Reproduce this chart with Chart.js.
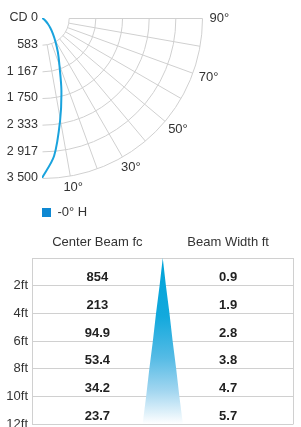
<!DOCTYPE html>
<html>
<head>
<meta charset="utf-8">
<script src="https://cdn.jsdelivr.net/npm/chart.js@4.4.1/dist/chart.umd.min.js"></script>
<style>
  html, body { margin: 0; padding: 0; background: #fff; overflow: hidden; }
  canvas { display: block; }
</style>
</head>
<body>
<canvas id="polar" width="301" height="230"></canvas>
<canvas id="table" width="301" height="210"></canvas>
<script>
// --- candela curve (deg from nadir -> cd) ---
const ANGLES  = [0, 5, 10, 15, 20, 25, 30, 35, 40, 45, 50, 55, 60, 70, 80, 90];
const CANDELA = [3500, 3030, 2280, 1640, 1120, 820, 580, 410, 280, 185, 110, 60, 30, 5, 0, 0];
const CD_TICKS  = [0, 583.33, 1166.67, 1750, 2333.33, 2916.67, 3500];
const CD_LABELS = ["CD 0", "583", "1 167", "1 750", "2 333", "2 917", "3 500"];
const GRID_ANGLES  = [10, 20, 30, 40, 50, 60, 70, 80, 90];
const ANGLE_LABELS = [10, 30, 50, 70, 90];
const SERIES_LABEL = "-0° H";

// --- beam table ---
const DISTANCES  = [2, 4, 6, 8, 10, 12];
const CENTER_FC  = ["854", "213", "94.9", "53.4", "34.2", "23.7"];
const BEAM_WIDTH = [0.9, 1.9, 2.8, 3.8, 4.7, 5.7];
const COLUMNS    = ["Center Beam fc", "Beam Width ft"];

const FONT = "'Liberation Sans', Arial, sans-serif";
const GRID = "#d0d0d0";
const TEXT = "#333";

Chart.defaults.font.family = FONT;
Chart.defaults.color = TEXT;
Chart.defaults.animation = false;

const rad = (a) => a * Math.PI / 180;

// ─── polar grid: arcs + spokes + angle labels ───────────────────────────────
const polarGrid = {
  id: "polarGrid",
  beforeDatasetsDraw(chart) {
    const { ctx, scales: { x, y } } = chart;
    const cx = x.getPixelForValue(0) + 0.5;
    const cy = y.getPixelForValue(0) + 0.5;
    const r = (v) => y.getPixelForValue(v) - y.getPixelForValue(0);
    const rIn = r(CD_TICKS[1]);
    const rOut = r(CD_TICKS[CD_TICKS.length - 1]);

    ctx.save();
    ctx.strokeStyle = GRID;
    ctx.lineWidth = 1;
    CD_TICKS.slice(1).forEach((v) => {
      ctx.beginPath();
      ctx.arc(cx, cy, r(v), 0, Math.PI / 2);
      ctx.stroke();
    });
    GRID_ANGLES.forEach((a) => {
      const s = Math.sin(rad(a)), c = Math.cos(rad(a));
      ctx.beginPath();
      ctx.moveTo(cx + rIn * s, cy + rIn * c);
      ctx.lineTo(cx + rOut * s, cy + rOut * c);
      ctx.stroke();
    });

    ctx.font = "13px " + FONT;
    ctx.fillStyle = TEXT;
    ctx.textAlign = "center";
    ctx.textBaseline = "middle";
    ANGLE_LABELS.forEach((a) => {
      const txt = a + "°";
      const w = ctx.measureText(txt).width;
      const s = Math.sin(rad(a)), c = Math.cos(rad(a));
      const d = rOut + 7;
      ctx.fillText(txt, cx + d * s + (w / 2) * s, cy + d * c + 5 * c);
    });
    ctx.restore();
  },
};

new Chart(document.getElementById("polar"), {
  type: "scatter",
  data: {
    datasets: [{
      label: SERIES_LABEL,
      data: ANGLES.map((a, i) => ({ x: CANDELA[i] * Math.sin(rad(a)), y: CANDELA[i] * Math.cos(rad(a)) })),
      showLine: true,
      borderColor: "#1aa3dd",
      backgroundColor: "#0e88d2",
      borderWidth: 2,
      pointRadius: 0,
      tension: 0.3,
    }],
  },
  options: {
    responsive: false,
    layout: { padding: { top: 18, right: 99, bottom: 1, left: 0 } },
    plugins: {
      tooltip: { enabled: false },
      legend: {
        position: "bottom",
        align: "start",
        fullSize: false,
        labels: {
          boxWidth: 9,
          boxHeight: 9,
          padding: 0,
          color: TEXT,
          font: { size: 13 },
          generateLabels: (chart) =>
            Chart.defaults.plugins.legend.labels.generateLabels(chart).map((l) => ({ ...l, lineWidth: 0 })),
        },
      },
    },
    scales: {
      x: {
        min: 0, max: 3500,
        ticks: { display: false },
        grid: { display: false, drawTicks: false },
        border: { display: false },
        afterFit: (s) => { s.height = 28; },
      },
      y: {
        min: 0, max: 3500, reverse: true,
        grid: { display: false, drawTicks: false },
        border: { display: false },
        afterBuildTicks: (s) => { s.ticks = CD_TICKS.map((v) => ({ value: v })); },
        ticks: { autoSkip: false, padding: 4, color: TEXT, font: { size: 12.5 }, callback: (v, i) => CD_LABELS[i] },
        afterFit: (s) => { s.width = 42; },
      },
    },
  },
  plugins: [polarGrid],
});

// ─── beam table ─────────────────────────────────────────────────────────────
const CONE_K = 0.027; // plot units per ft of beam width
const coneEdge = DISTANCES.map((d, i) => ({ x: BEAM_WIDTH[i] * CONE_K, y: d }));
const coneData = [{ x: 0, y: 0 }, ...coneEdge, ...coneEdge.slice().reverse().map((p) => ({ x: -p.x, y: p.y }))];

const tableText = {
  id: "tableText",
  afterDatasetsDraw(chart) {
    const { ctx, scales: { x, y } } = chart;
    ctx.save();
    ctx.font = "bold 13px " + FONT;
    ctx.fillStyle = "#222";
    ctx.textAlign = "center";
    ctx.textBaseline = "middle";
    DISTANCES.forEach((d, i) => {
      const py = y.getPixelForValue(d) - 8;
      ctx.fillText(CENTER_FC[i], x.getPixelForValue(-0.5), py);
      ctx.fillText(String(BEAM_WIDTH[i]), x.getPixelForValue(0.5), py);
    });
    ctx.restore();
  },
};

new Chart(document.getElementById("table"), {
  type: "scatter",
  data: {
    datasets: [{
      label: "beam",
      data: coneData,
      showLine: true,
      fill: "shape",
      borderWidth: 0,
      borderColor: "transparent",
      pointRadius: 0,
      backgroundColor: (c) => {
        const { ctx, chartArea } = c.chart;
        if (!chartArea) return "#00a5da";
        const g = ctx.createLinearGradient(0, chartArea.top, 0, chartArea.bottom);
        g.addColorStop(0, "#00a3d8");
        g.addColorStop(0.35, "#12a9dd");
        g.addColorStop(0.6, "#55bbe5");
        g.addColorStop(0.8, "#a2d6f0");
        g.addColorStop(1, "#ffffff");
        return g;
      },
    }],
  },
  options: {
    responsive: false,
    layout: { padding: { top: 5, right: 4, bottom: 16, left: 0 } },
    plugins: { legend: { display: false }, tooltip: { enabled: false } },
    scales: {
      x: {
        position: "top",
        min: -1, max: 1,
        afterBuildTicks: (s) => { s.ticks = [-1, -0.5, 0, 0.5, 1].map((v) => ({ value: v })); },
        ticks: {
          autoSkip: false, maxRotation: 0, minRotation: 0, padding: 7.5,
          color: TEXT, font: { size: 13 },
          callback: (v) => (v === -0.5 ? COLUMNS[0] : v === 0.5 ? COLUMNS[1] : ""),
        },
        grid: { drawTicks: false, color: (c) => (c.tick && Math.abs(c.tick.value) === 1 ? GRID : "transparent") },
        border: { display: false },
        afterFit: (s) => { s.height = 23; },
      },
      y: {
        min: 0, max: 12, reverse: true,
        afterBuildTicks: (s) => { s.ticks = [0, ...DISTANCES].map((v) => ({ value: v })); },
        ticks: { autoSkip: false, padding: 4, color: TEXT, font: { size: 13 }, callback: (v) => (v ? v + "ft" : "") },
        grid: { drawTicks: false, color: GRID },
        border: { display: false },
        afterFit: (s) => { s.width = 32; },
      },
    },
  },
  plugins: [tableText],
});
</script>
</body>
</html>
